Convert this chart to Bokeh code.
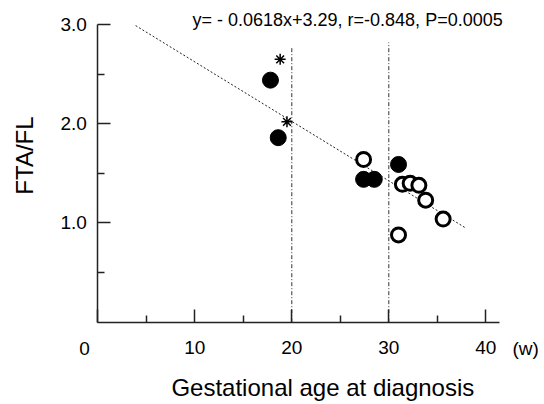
import numpy as np
from bokeh.plotting import figure
from bokeh.models import Range1d, FixedTicker, NumeralTickFormatter, Label
from bokeh.embed import file_html
from bokeh.resources import INLINE

# ---- data ----
filled_x = [17.8, 18.6, 27.4, 28.5, 31.0]
filled_y = [2.44, 1.86, 1.44, 1.44, 1.59]
open_x = [27.4, 31.4, 32.2, 33.1, 33.8, 35.6, 31.0]
open_y = [1.64, 1.39, 1.40, 1.38, 1.23, 1.04, 0.88]
star_x = [18.8, 19.5]
star_y = [2.65, 2.02]
fit_x = [3.9, 38.0]
fit_y = [2.99, 0.945]
vline_x = [20, 30]
vline_top = [2.78, 2.82]
x_ticks = [0, 10, 20, 30, 40]
x_minor = [5, 15, 25, 35]
y_ticks = [1.0, 2.0, 3.0]
y_minor = [0.5, 1.5, 2.5]
stat_text = "y= - 0.0618x+3.29, r=-0.848, P=0.0005"
x_title = "Gestational age at diagnosis"
y_title = "FTA/FL"
unit_text = "(w)"

FONT = "Liberation Sans"
AX = "#222222"

p = figure(width=544, height=404, x_range=Range1d(-10.03, 46.05), y_range=Range1d(-0.830, 3.243),
           output_backend="svg", toolbar_location=None,
           min_border_left=0, min_border_right=0, min_border_top=0, min_border_bottom=0)
p.outline_line_color = None
p.xgrid.visible = False
p.ygrid.visible = False
p.background_fill_color = "white"
p.border_fill_color = "white"

xa = p.xaxis[0]
xa.fixed_location = 0
xa.bounds = (0, 41.4)
xa.ticker = FixedTicker(ticks=x_ticks, minor_ticks=x_minor)
xa.major_label_overrides = {0: ""}
xa.major_tick_in = 13
xa.major_tick_out = 0
xa.minor_tick_in = 7
xa.minor_tick_out = 0
xa.major_label_standoff = 19
xa.major_label_text_font = FONT
xa.major_label_text_font_size = "19px"
xa.major_label_text_color = "black"
xa.axis_line_color = AX
xa.axis_line_width = 1.5
xa.major_tick_line_color = AX
xa.major_tick_line_width = 1.5
xa.minor_tick_line_color = AX
xa.minor_tick_line_width = 1.5

ya = p.yaxis[0]
ya.fixed_location = 0
ya.bounds = (0, 3.0)
ya.ticker = FixedTicker(ticks=y_ticks, minor_ticks=y_minor)
ya.formatter = NumeralTickFormatter(format="0.0")
ya.major_tick_in = 13
ya.major_tick_out = 0
ya.minor_tick_in = 7
ya.minor_tick_out = 0
ya.major_label_standoff = 11
ya.major_label_text_font = FONT
ya.major_label_text_font_size = "19px"
ya.major_label_text_color = "black"
ya.axis_line_color = AX
ya.axis_line_width = 1.5
ya.major_tick_line_color = AX
ya.major_tick_line_width = 1.5
ya.minor_tick_line_color = AX
ya.minor_tick_line_width = 1.5

# reference lines
p.segment(x0=vline_x, y0=[0, 0], x1=vline_x, y1=vline_top, line_color="#333333",
          line_width=1, line_dash="4 2 1 2")
p.line(fit_x, fit_y, line_color="#222222", line_width=1, line_dash="2 2")

# points
p.scatter(filled_x, filled_y, size=16, fill_color="black", line_color="black", line_width=1)
p.scatter(open_x, open_y, size=14, fill_color="white", line_color="black", line_width=3)
p.scatter(star_x, star_y, marker="asterisk", size=11, line_color="black", line_width=1.5)

# texts
p.add_layout(Label(x=9.76, y=3.046, text=stat_text, text_font=FONT, text_font_size="18px",
                   text_align="left", text_baseline="middle", text_color="black"))
p.add_layout(Label(x=-1.37, y=-0.265, text="0", text_font=FONT, text_font_size="19px",
                   text_align="center", text_baseline="middle", text_color="black"))
p.add_layout(Label(x=44.1, y=-0.265, text=unit_text, text_font=FONT, text_font_size="19px",
                   text_align="center", text_baseline="middle", text_color="black"))
p.add_layout(Label(x=23.2, y=-0.658, text=x_title, text_font=FONT, text_font_size="24px",
                   text_align="center", text_baseline="middle", text_color="black"))
p.add_layout(Label(x=-7.56, y=1.68, text=y_title, text_font=FONT, text_font_size="24px",
                   angle=np.pi / 2, text_align="center", text_baseline="middle", text_color="black"))

open("out.html", "w").write(file_html(p, INLINE))
